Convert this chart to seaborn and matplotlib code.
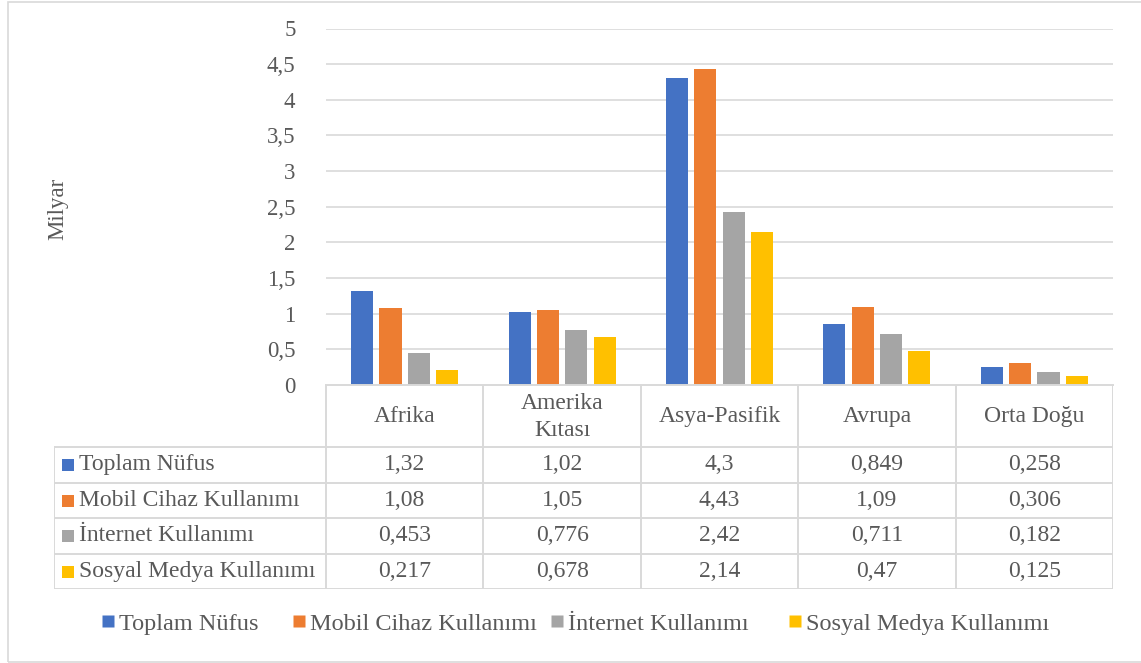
import matplotlib
matplotlib.use("Agg")
import matplotlib.pyplot as plt
import matplotlib.patches as mpatches
from matplotlib.lines import Line2D
import seaborn as sns
import pandas as pd

# Regions and series (billions of people)
regions = ["Afrika", "Amerika\nKıtası", "Asya-Pasifik", "Avrupa", "Orta Doğu"]
series_names = ["Toplam Nüfus", "Mobil Cihaz Kullanımı", "İnternet Kullanımı", "Sosyal Medya Kullanımı"]
toplam_nufus = [1.32, 1.02, 4.3, 0.849, 0.258]
mobil_cihaz = [1.08, 1.05, 4.43, 1.09, 0.306]
internet = [0.453, 0.776, 2.42, 0.711, 0.182]
sosyal_medya = [0.217, 0.678, 2.14, 0.47, 0.125]
y_ticks = [0, 0.5, 1, 1.5, 2, 2.5, 3, 3.5, 4, 4.5, 5]
colors = ["#4472C4", "#ED7D31", "#A5A5A5", "#FFC000"]

series_values = [toplam_nufus, mobil_cihaz, internet, sosyal_medya]

W, H = 1141, 663
TEXT = "#595959"
GRID = "#D9D9D9"

sns.set_theme(style="white")
plt.rcParams["font.family"] = ["Liberation Serif", "DejaVu Serif"]

def fmt(v):
    s = f"{v:g}"
    return s.replace(".", ",")

rows = []
for name, vals in zip(series_names, series_values):
    for r, v in zip(regions, vals):
        rows.append({"Bölge": r, "Seri": name, "Değer": v})
df = pd.DataFrame(rows)

fig = plt.figure(figsize=(W / 100, H / 100), dpi=100)

# Outer chart frame
fig.patches.append(mpatches.Rectangle((8 / W, 1.5 / H), 1.2, 1 - 3 / H,
                                      transform=fig.transFigure, fill=False,
                                      edgecolor=GRID, linewidth=1.2))

# Plot area
px_left, px_right, px_top, px_zero = 326, 1113, 28.5, 385
ax = fig.add_axes([px_left / W, 1 - px_zero / H, (px_right - px_left) / W,
                   (px_zero - px_top) / H])
sns.barplot(data=df, x="Bölge", y="Değer", hue="Seri", order=regions,
            hue_order=series_names, palette=dict(zip(series_names, colors)),
            saturation=1, width=0.72, gap=0.22, legend=False, ax=ax,
            edgecolor="none")
ax.set_xlim(-0.5, len(regions) - 0.5)
ax.set_ylim(0, 5)
ax.set_yticks(y_ticks)
ax.set_yticklabels([fmt(t) for t in y_ticks], color=TEXT, fontsize=16.5)
ax.tick_params(axis="y", length=0, pad=22)
ax.set_xticks([])
ax.set_xlabel("")
ax.set_ylabel("")
for t in y_ticks[1:]:
    ax.axhline(t, color=GRID, linewidth=1.2, zorder=0)
for s in ["top", "right", "left"]:
    ax.spines[s].set_visible(False)
ax.spines["bottom"].set_color(GRID)
ax.spines["bottom"].set_linewidth(1.4)
ax.set_facecolor("none")

fig.text(58 / W, 1 - 209 / H, "Milyar", rotation=90, ha="center", va="center",
         color=TEXT, fontsize=16.5)

# Data table under the plot
tbl_left, tbl_bottom = 54, 589
unit = (px_right - px_left) / len(regions)
x_min = -0.5 - (px_left - tbl_left) / unit
tax = fig.add_axes([tbl_left / W, 1 - tbl_bottom / H, (px_right - tbl_left) / W,
                    (tbl_bottom - px_zero) / H])
tax.set_xlim(x_min, len(regions) - 0.5)
tax.set_ylim(tbl_bottom - px_zero, 0)
tax.axis("off")

header_h = 62
row_h = (tbl_bottom - px_zero - header_h) / len(series_names)
lw = 1.4
# vertical lines
for i in range(len(regions) + 1):
    tax.plot([i - 0.5, i - 0.5], [0, tbl_bottom - px_zero], color=GRID, lw=lw,
             solid_capstyle="butt")
tax.plot([x_min + 0.003, x_min + 0.003], [header_h, tbl_bottom - px_zero],
         color=GRID, lw=lw)
# horizontal lines
for j in range(len(series_names) + 1):
    y = header_h + j * row_h
    tax.plot([x_min, len(regions) - 0.5], [y, y], color=GRID, lw=lw)

for i, r in enumerate(regions):
    tax.text(i, header_h / 2 + 1, r, ha="center", va="center", color=TEXT,
             fontsize=17, linespacing=1.4)
for j, (name, vals, c) in enumerate(zip(series_names, series_values, colors)):
    yc = header_h + (j + 0.5) * row_h
    tax.text(x_min + 25 / unit, yc, name, ha="left", va="center", color=TEXT,
             fontsize=17)
    tax.add_patch(mpatches.Rectangle((x_min + 8 / unit, yc - 5.5), 12 / unit, 12,
                                     facecolor=c, edgecolor="none"))
    for i, v in enumerate(vals):
        tax.text(i, yc, fmt(v), ha="center", va="center", color=TEXT, fontsize=17)

# Legend entries, one per series, placed along the bottom
legend_x = [102.4, 293.4, 551.4, 789.4]
for name, c, lx in zip(series_names, colors, legend_x):
    h = Line2D([], [], marker="s", linestyle="none", markersize=8.6,
               markerfacecolor=c, markeredgecolor="none")
    fig.legend([h], [name], loc="center left", frameon=False,
               bbox_to_anchor=(lx / W, 1 - 623.5 / H), fontsize=17.5,
               handlelength=0.5, handletextpad=0.18, borderpad=0,
               borderaxespad=0, labelcolor=TEXT)

fig.savefig("out.png", dpi=100, facecolor="white")
